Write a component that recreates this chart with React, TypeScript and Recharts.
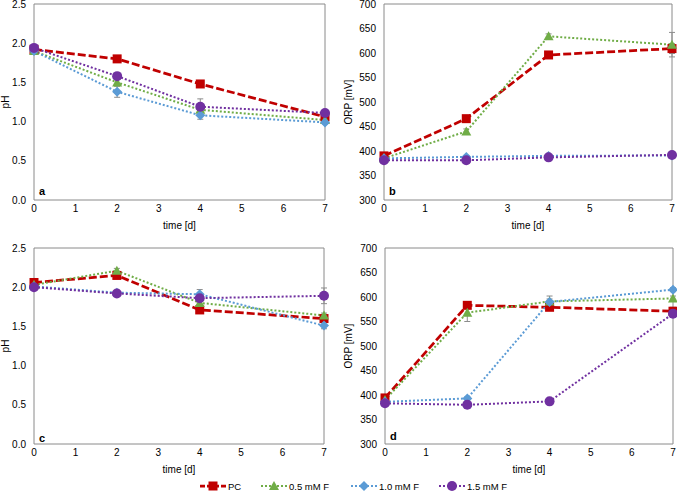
import React from 'react';
import { LineChart, Line, XAxis, YAxis, ReferenceArea, ErrorBar } from 'recharts';

const FONT = '"Liberation Sans", Arial, Helvetica, sans-serif';

const days = [0, 2, 4, 7];
const xTicks = [0, 1, 2, 3, 4, 5, 6, 7];
const phTicks = [0, 0.5, 1.0, 1.5, 2.0, 2.5];
const orpTicks = [300, 350, 400, 450, 500, 550, 600, 650, 700];
const seriesNames = ['PC', '0.5 mM F', '1.0 mM F', '1.5 mM F'];
const seriesColors = ['#C00000', '#70AD47', '#5B9BD5', '#7030A0'];

// Panel a (pH)
const phA_PC = [1.92, 1.80, 1.48, 1.06];
const phA_F05 = [1.90, 1.50, 1.15, 1.02];
const phA_F10 = [1.90, 1.38, 1.08, 0.99];
const phA_F15 = [1.94, 1.58, 1.19, 1.11];
const errA_PC = [0.02, 0.03, 0.03, 0.03];
const errA_F05 = [0.02, 0.04, 0.04, 0.02];
const errA_F10 = [0.02, 0.07, 0.05, 0.02];
const errA_F15 = [0.02, 0.03, 0.1, 0.03];

// Panel b (ORP)
const orpB_PC = [390, 466, 596, 609];
const orpB_F05 = [385, 440, 634, 617];
const orpB_F10 = [385, 388, 390, 391];
const orpB_F15 = [381, 381, 387, 392];
const errB_PC = [3, 5, 5, 10];
const errB_F05 = [3, 5, 5, 25];
const errB_F10 = [3, 3, 3, 3];
const errB_F15 = [3, 3, 3, 3];

// Panel c (pH)
const phC_PC = [2.06, 2.15, 1.71, 1.60];
const phC_F05 = [2.03, 2.21, 1.80, 1.64];
const phC_F10 = [2.01, 1.93, 1.91, 1.51];
const phC_F15 = [2.00, 1.92, 1.86, 1.89];
const errC_PC = [0.02, 0.03, 0.03, 0.03];
const errC_F05 = [0.02, 0.03, 0.05, 0.03];
const errC_F10 = [0.02, 0.03, 0.06, 0.04];
const errC_F15 = [0.02, 0.03, 0.03, 0.1];

// Panel d (ORP)
const orpD_PC = [394, 583, 579, 571];
const orpD_F05 = [390, 568, 591, 597];
const orpD_F10 = [386, 393, 590, 615];
const orpD_F15 = [383, 380, 387, 566];
const errD_PC = [3, 5, 5, 8];
const errD_F05 = [3, 18, 5, 5];
const errD_F10 = [3, 3, 12, 4];
const errD_F15 = [3, 3, 3, 4];

function buildRows(v: number[][], e: number[][]) {
  return days.map((d, i) => ({
    day: d,
    s0: v[0][i], e0: e[0][i],
    s1: v[1][i], e1: e[1][i],
    s2: v[2][i], e2: e[2][i],
    s3: v[3][i], e3: e[3][i],
  }));
}

const rowsA = buildRows([phA_PC, phA_F05, phA_F10, phA_F15], [errA_PC, errA_F05, errA_F10, errA_F15]);
const rowsB = buildRows([orpB_PC, orpB_F05, orpB_F10, orpB_F15], [errB_PC, errB_F05, errB_F10, errB_F15]);
const rowsC = buildRows([phC_PC, phC_F05, phC_F10, phC_F15], [errC_PC, errC_F05, errC_F10, errC_F15]);
const rowsD = buildRows([orpD_PC, orpD_F05, orpD_F10, orpD_F15], [errD_PC, errD_F05, errD_F10, errD_F15]);

function Marker({ kind, cx, cy, color }: { kind: number; cx: number; cy: number; color: string }) {
  if (kind === 0) return <rect x={cx - 4.5} y={cy - 4.5} width={9} height={9} fill={color} />;
  if (kind === 1) return <polygon points={`${cx},${cy - 5} ${cx + 5},${cy + 4} ${cx - 5},${cy + 4}`} fill={color} />;
  if (kind === 2) return <polygon points={`${cx},${cy - 5} ${cx + 5},${cy} ${cx},${cy + 5} ${cx - 5},${cy}`} fill={color} />;
  return <circle cx={cx} cy={cy} r={5} fill={color} />;
}

function makeDot(kind: number) {
  return (props: any) => {
    const { cx, cy, index } = props;
    if (cx == null || cy == null) return <g key={`n${index}`} />;
    return (
      <g key={`d${kind}-${index}`}>
        <Marker kind={kind} cx={cx} cy={cy} color={seriesColors[kind]} />
      </g>
    );
  };
}

const lineStyles = [
  { strokeWidth: 2.75, strokeDasharray: '8 3' },
  { strokeWidth: 2, strokeDasharray: '2 2' },
  { strokeWidth: 2, strokeDasharray: '2 2' },
  { strokeWidth: 2, strokeDasharray: '2 2' },
];

type PanelProps = {
  left: number; top: number; width: number; height: number;
  marginTop: number; marginRight: number; yWidth: number;
  yDomain: [number, number]; yTicks: number[]; decimals: number;
  yTitle: string; yTitleX: number; letter: string; letterX: number; letterY: number;
  rows: any[];
};

const textBase: React.CSSProperties = {
  position: 'absolute', fontFamily: FONT, fontSize: 10, color: '#000', whiteSpace: 'nowrap',
  lineHeight: '12px', height: 12,
};

function Panel(p: PanelProps) {
  const plotTop = p.marginTop;
  const plotBottom = p.height - 32;
  const plotLeft = p.yWidth;
  const plotRight = p.width - p.marginRight;
  const yCy = (plotTop + plotBottom) / 2;
  const xCx = (plotLeft + plotRight) / 2;
  return (
    <div style={{ position: 'absolute', left: p.left, top: p.top, width: p.width, height: p.height }}>
      <LineChart width={p.width} height={p.height} data={p.rows}
        margin={{ top: p.marginTop, right: p.marginRight, left: 0, bottom: 0 }}>
        <XAxis dataKey="day" type="number" domain={[0, 7]} ticks={xTicks} interval={0}
          axisLine={false} tickLine={false} tickSize={4} tickMargin={1} height={32}
          tick={{ fontSize: 10, fill: '#000', fontFamily: FONT }} />
        <YAxis type="number" domain={p.yDomain} ticks={p.yTicks} interval={0} width={p.yWidth}
          axisLine={false} tickLine={false}
          tickFormatter={(v: number) => v.toFixed(p.decimals)}
          tick={{ fontSize: 10, fill: '#000', fontFamily: FONT }} />
        <ReferenceArea x1={0} x2={7} y1={p.yDomain[0]} y2={p.yDomain[1]} fill="none"
          fillOpacity={0} stroke="#8a8a8a" strokeWidth={1} ifOverflow="visible" />
        {[0, 1, 2, 3].map((k) => (
          <Line key={k} type="linear" dataKey={`s${k}`} name={seriesNames[k]} stroke={seriesColors[k]}
            strokeWidth={lineStyles[k].strokeWidth} strokeDasharray={lineStyles[k].strokeDasharray}
            dot={makeDot(k)} activeDot={false} isAnimationActive={false}>
            <ErrorBar dataKey={`e${k}`} direction="y" width={3} stroke="#8c8c8c" strokeWidth={1} />
          </Line>
        ))}
      </LineChart>
      <div style={{ ...textBase, left: xCx - 40, width: 80, top: p.height - 12, textAlign: 'center' }}>time [d]</div>
      <div style={{ ...textBase, left: p.yTitleX - 40, width: 80, top: yCy - 6, textAlign: 'center',
        transform: 'rotate(-90deg)' }}>{p.yTitle}</div>
      <div style={{ ...textBase, left: p.letterX, top: p.letterY - 6, fontSize: 11, fontWeight: 'bold' }}>{p.letter}</div>
    </div>
  );
}

function LegendIcon({ k }: { k: number }) {
  return (
    <svg width={28} height={12} style={{ display: 'block' }}>
      <line x1={1} y1={6} x2={27} y2={6} stroke={seriesColors[k]} strokeWidth={lineStyles[k].strokeWidth}
        strokeDasharray={k === 0 ? '5 2' : lineStyles[k].strokeDasharray} />
      <Marker kind={k} cx={14} cy={6} color={seriesColors[k]} />
    </svg>
  );
}

const legendStarts = [199, 260, 350, 438];

export default function App() {
  return (
    <div style={{ position: 'absolute', left: 0, top: 0, width: 677, height: 494, background: '#fff', overflow: 'hidden' }}>
      <Panel left={0} top={0} width={338} height={232} marginTop={4} marginRight={13} yWidth={34}
        yDomain={[0, 2.5]} yTicks={phTicks} decimals={1} yTitle="pH" yTitleX={6}
        letter="a" letterX={39} letterY={191} rows={rowsA} />
      <Panel left={338} top={0} width={339} height={232} marginTop={4} marginRight={5} yWidth={46}
        yDomain={[300, 700]} yTicks={orpTicks} decimals={0} yTitle="ORP [mV]" yTitleX={11}
        letter="b" letterX={51} letterY={191} rows={rowsB} />
      <Panel left={0} top={225} width={338} height={251} marginTop={23} marginRight={14} yWidth={34}
        yDomain={[0, 2.5]} yTicks={phTicks} decimals={1} yTitle="pH" yTitleX={6}
        letter="c" letterX={39} letterY={213} rows={rowsC} />
      <Panel left={338} top={225} width={339} height={251} marginTop={23} marginRight={4} yWidth={47}
        yDomain={[300, 700]} yTicks={orpTicks} decimals={0} yTitle="ORP [mV]" yTitleX={11}
        letter="d" letterX={52} letterY={211} rows={rowsD} />
      {seriesNames.map((name, k) => (
        <div key={name} style={{ position: 'absolute', left: legendStarts[k], top: 480, height: 12,
          display: 'flex', alignItems: 'center', fontFamily: FONT, fontSize: 9.5, color: '#000', whiteSpace: 'nowrap' }}>
          <LegendIcon k={k} />
          <span style={{ marginLeft: 1 }}>{name}</span>
        </div>
      ))}
    </div>
  );
}
